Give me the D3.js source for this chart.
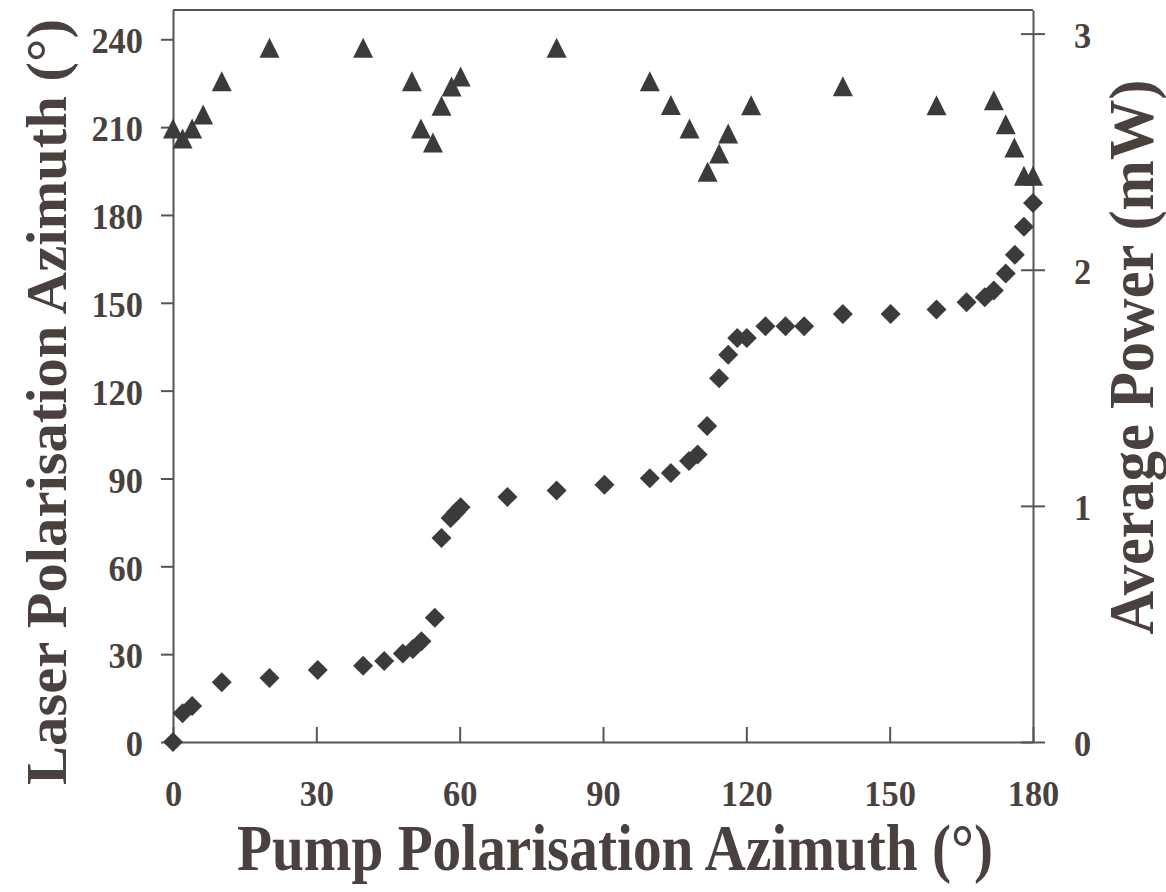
<!DOCTYPE html>
<html>
<head>
<meta charset="utf-8">
<script src="https://cdn.jsdelivr.net/npm/d3@7"></script>
<style>
  body { margin: 0; background: #fff; }
  text { font-family: "Liberation Serif", "Times New Roman", serif; font-weight: bold; }
</style>
</head>
<body>
<svg id="chart"></svg>
<script>
// laser polarisation azimuth (diamonds, left axis)
var laserPump = [0, 2, 4, 10.2, 20.2, 30.3, 39.8, 44.2, 48.1, 50.2, 52, 54.8, 56.2, 58.1, 59.2, 60.2,
                 70, 80.3, 90.3, 99.8, 104.2, 108, 109.8, 111.8, 114.3, 116.2, 118.1, 120.1, 124, 128.2,
                 132.1, 140.2, 150.2, 159.8, 166.1, 169.9, 171.8, 174.3, 176.2, 178.1, 180];
var laserAngle = [0, 9.8, 12.3, 20.4, 21.9, 24.6, 26.0, 27.7, 30.2, 31.8, 34.4, 42.4, 69.7, 76.5, 78.5, 80.2,
                  83.7, 85.9, 87.9, 90.1, 91.9, 96, 98.2, 107.9, 124.2, 132.3, 138, 138, 142, 142,
                  142, 146.2, 146.2, 147.7, 150.2, 151.9, 154.2, 160, 166.4, 176, 184.1];

// average power (triangles, right axis)
var powerPump = [0, 2, 4, 6.3, 10.2, 20.2, 39.8, 50, 51.9, 54.4, 56.2, 58.3, 60.2, 80.3, 99.8, 104.2,
                 108.1, 111.9, 114.3, 116.2, 121, 140.2, 159.8, 171.8, 174.3, 176.1, 178.1, 180];
var powerMW = [2.598, 2.556, 2.598, 2.657, 2.798, 2.94, 2.94, 2.798, 2.598, 2.539, 2.695, 2.776, 2.818, 2.94,
               2.798, 2.698, 2.598, 2.415, 2.492, 2.577, 2.697, 2.777, 2.697, 2.718, 2.616, 2.518, 2.398, 2.398];

var xTicks = [0, 30, 60, 90, 120, 150, 180];
var leftTicks = [0, 30, 60, 90, 120, 150, 180, 210, 240];
var rightTicks = [0, 1, 2, 3];

var width = 1166, height = 892;
var plot = { left: 173, right: 1033, top: 10, bottom: 742 };
var ink = '#3d3a3b', axisCol = '#575455', textCol = '#4a413f';

var svg = d3.select('#chart').attr('width', width).attr('height', height);

var xScale = d3.scaleLinear().domain([0, 180]).range([plot.left, plot.right]);
var yLeft = d3.scaleLinear().domain([0, 250]).range([plot.bottom, plot.top]);
var yRight = d3.scaleLinear().domain([0, 3.1]).range([plot.bottom, plot.top]);

// marker shapes (20px boxes)
var triangleSym = { draw: function(ctx, size) {
  var h = Math.sqrt(size) / 2;
  ctx.moveTo(0, -h); ctx.lineTo(h, h); ctx.lineTo(-h, h); ctx.closePath();
}};
var diamondSym = { draw: function(ctx, size) {
  var r = Math.sqrt(size) / 2;
  ctx.moveTo(0, -r); ctx.lineTo(r, 0); ctx.lineTo(0, r); ctx.lineTo(-r, 0); ctx.closePath();
}};

// top border
svg.append('line')
   .attr('x1', plot.left).attr('x2', plot.right)
   .attr('y1', plot.top).attr('y2', plot.top)
   .attr('stroke', axisCol).attr('stroke-width', 2);

var xAxis = svg.append('g')
   .attr('transform', 'translate(0,' + plot.bottom + ')')
   .call(d3.axisBottom(xScale).tickValues(xTicks).tickSize(-15).tickSizeOuter(0).tickPadding(38));

var leftAxis = svg.append('g')
   .attr('transform', 'translate(' + plot.left + ',0)')
   .call(d3.axisLeft(yLeft).tickValues(leftTicks).tickSize(12).tickSizeOuter(0).tickPadding(18));

var rightAxis = svg.append('g')
   .attr('transform', 'translate(' + plot.right + ',0)')
   .call(d3.axisRight(yRight).tickValues(rightTicks).tickFormat(d3.format('d'))
           .tickSize(12).tickSizeOuter(0).tickPadding(29));

rightAxis.selectAll('.tick line').attr('x1', -12).attr('x2', 12);

[xAxis, leftAxis, rightAxis].forEach(function(g) {
  g.select('.domain').attr('stroke', axisCol).attr('stroke-width', 2);
  g.selectAll('.tick line').attr('stroke', axisCol).attr('stroke-width', 2);
  g.selectAll('.tick text')
   .attr('fill', textCol)
   .attr('textLength', function() { return this.textContent.length * 17.2; })
   .attr('lengthAdjust', 'spacingAndGlyphs')
   .style('font-size', '36px')
   .style('font-family', '"Liberation Serif", serif')
   .style('font-weight', 'bold');
});
leftAxis.selectAll('.tick text').attr('dy', '0.38em');
rightAxis.selectAll('.tick text').attr('dy', '0.38em');

// triangles: average power
svg.append('g').selectAll('path')
   .data(powerPump)
   .enter()
   .append('path')
   .attr('d', d3.symbol().type(triangleSym).size(400))
   .attr('transform', function(d, i) { return 'translate(' + xScale(d) + ',' + yRight(powerMW[i]) + ')'; })
   .attr('fill', ink);

// diamonds: laser polarisation
svg.append('g').selectAll('path')
   .data(laserPump)
   .enter()
   .append('path')
   .attr('d', d3.symbol().type(diamondSym).size(400))
   .attr('transform', function(d, i) { return 'translate(' + xScale(d) + ',' + yLeft(laserAngle[i]) + ')'; })
   .attr('fill', ink);

// axis titles
svg.append('text')
   .attr('x', 615).attr('y', 870)
   .attr('text-anchor', 'middle')
   .attr('fill', textCol)
   .attr('textLength', 756).attr('lengthAdjust', 'spacingAndGlyphs')
   .style('font-size', '65px')
   .text('Pump Polarisation Azimuth (°)');

svg.append('text')
   .attr('transform', 'translate(66,402) rotate(-90)')
   .attr('text-anchor', 'middle')
   .attr('fill', textCol)
   .attr('textLength', 766).attr('lengthAdjust', 'spacingAndGlyphs')
   .style('font-size', '58px')
   .text('Laser Polarisation Azimuth (°)');

svg.append('text')
   .attr('transform', 'translate(1153,357) rotate(-90)')
   .attr('text-anchor', 'middle')
   .attr('fill', textCol)
   .attr('textLength', 555).attr('lengthAdjust', 'spacingAndGlyphs')
   .style('font-size', '64px')
   .text('Average Power (mW)');
</script>
</body>
</html>
